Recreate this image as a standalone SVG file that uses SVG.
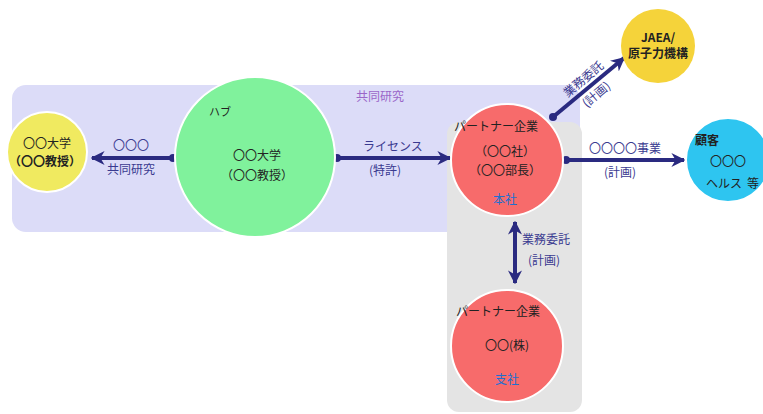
<svg xmlns="http://www.w3.org/2000/svg" width="763" height="414" viewBox="0 0 763 414">
<defs>
<style>
text{font-family:"Noto Sans CJK JP","Noto Sans",sans-serif;font-size:12px;text-anchor:middle;fill:#222}
.lbl{fill:#3a3a90}
.bl{fill:#1f6fd0}
.b{font-weight:bold}
.edge{stroke:#2a2a80;stroke-width:4;fill:none}
.dot{fill:#2a2a80}
.node{stroke:#fff;stroke-width:2}
</style>
<marker id="ah" viewBox="0 0 10 10" refX="9" refY="5" markerWidth="3.5" markerHeight="3.5" orient="auto-start-reverse">
<path d="M0,0 L10,5 L0,10 L3,5 z" fill="#2a2a80"/>
</marker>
</defs>
<rect width="763" height="414" fill="#fff"/>
<g id="regions">
<rect x="12" y="85" width="568" height="147" rx="14" fill="#dcdcf8"/>
<rect x="447" y="122" width="135" height="290" rx="12" fill="#e4e4e4"/>
<text x="380" y="101" style="fill:#9a66c8">共同研究</text>
</g>
<g id="connectors">
<line class="edge" x1="173" y1="158" x2="92" y2="158" marker-end="url(#ah)"/>
<circle class="dot" cx="173" cy="158" r="4"/>
<text class="lbl" x="131" y="150">〇〇〇</text>
<text class="lbl" x="131" y="174">共同研究</text>
<line class="edge" x1="337" y1="158" x2="450" y2="158" marker-end="url(#ah)"/>
<circle class="dot" cx="337" cy="158" r="4"/>
<text class="lbl" x="393" y="151">ライセンス</text>
<text class="lbl" x="385" y="175">(特許)</text>
<line class="edge" x1="566" y1="160" x2="684" y2="160" marker-end="url(#ah)"/>
<circle class="dot" cx="566" cy="160" r="4"/>
<text class="lbl" x="625" y="153">〇〇〇〇事業</text>
<text class="lbl" x="620" y="177">(計画)</text>
<line class="edge" x1="553" y1="117" x2="624" y2="58" marker-end="url(#ah)"/>
<circle class="dot" cx="553" cy="117" r="4"/>
<g transform="translate(590,87) rotate(-40)">
<text class="lbl" x="0" y="-6">業務委託</text>
<text class="lbl" x="0" y="14">(計画)</text>
</g>
<line class="edge" x1="515" y1="222" x2="515" y2="283" marker-start="url(#ah)" marker-end="url(#ah)"/>
<text class="lbl" x="546" y="244">業務委託</text>
<text class="lbl" x="544" y="265">(計画)</text>
</g>
<g id="node-univ-left">
<circle class="node" cx="47" cy="152" r="40" fill="#f0ea60"/>
<text x="47" y="148">〇〇大学</text>
<text x="45" y="166" class="b">（〇〇教授）</text>
</g>
<g id="node-univ-main">
<circle class="node" cx="255" cy="157" r="80" fill="#80f29c"/>
<text x="220" y="116" style="font-size:11px">ハブ</text>
<text x="257" y="160">〇〇大学</text>
<text x="257" y="180">（〇〇教授）</text>
</g>
<g id="node-partner-top">
<circle class="node" cx="507" cy="160" r="56" fill="#f76b6b"/>
<text x="496" y="131">パートナー企業</text>
<text x="505" y="156">（〇〇社）</text>
<text x="505" y="175">（〇〇部長）</text>
<text x="505" y="204" class="bl">本社</text>
</g>
<g id="node-partner-bottom">
<circle class="node" cx="507" cy="346" r="56" fill="#f76b6b"/>
<text x="498" y="316">パートナー企業</text>
<text x="507" y="350">〇〇(株)</text>
<text x="507" y="384" class="bl">支社</text>
</g>
<g id="node-jaea">
<circle cx="658" cy="46" r="37" fill="#f5d33a"/>
<text x="658" y="42" class="b">JAEA/</text>
<text x="658" y="58" class="b">原子力機構</text>
</g>
<g id="node-customer">
<circle class="node" cx="728" cy="160" r="42" fill="#2ec5f0"/>
<text x="707" y="145" class="b">顧客</text>
<text x="728" y="166">〇〇〇</text>
<text x="724" y="188">ヘルス</text>
<text x="753" y="188">等</text>
</g>
</svg>
